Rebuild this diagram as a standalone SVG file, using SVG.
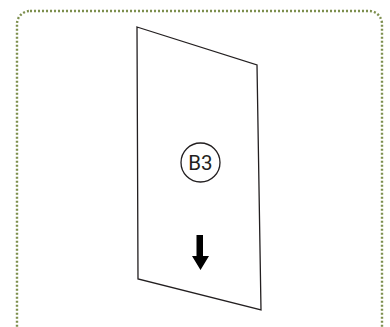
<svg xmlns="http://www.w3.org/2000/svg" width="390" height="327" viewBox="0 0 390 327">
<style>
.frame{fill:none;stroke:#7d8f4e;stroke-width:2.4;stroke-dasharray:2 2}
.panel{fill:#ffffff;stroke:#231f20;stroke-width:1.3;stroke-linejoin:miter}
.badge{fill:#ffffff;stroke:#231f20;stroke-width:1.3}
.lbl{font-family:Roboto,"Liberation Sans",sans-serif;font-size:20.5px;fill:#231f20;text-anchor:middle}
</style>
<rect width="390" height="327" fill="#ffffff"/>
<rect id="frame" class="frame" x="17" y="11" width="365" height="330" rx="13" ry="13"/>
<g id="panel">
<polygon class="panel" points="137,27 257,65 261,310 138,279"/>
</g>
<g id="b3">
<circle class="badge" cx="200.5" cy="162.5" r="19.5"/>
<text class="lbl" x="200.5" y="170">B3</text>
</g>
<g id="connectors">
<polygon fill="#000000" points="196.5,235 203,235 203,256 209,256 200.5,270 192,256 196.5,256"/>
</g>
</svg>
